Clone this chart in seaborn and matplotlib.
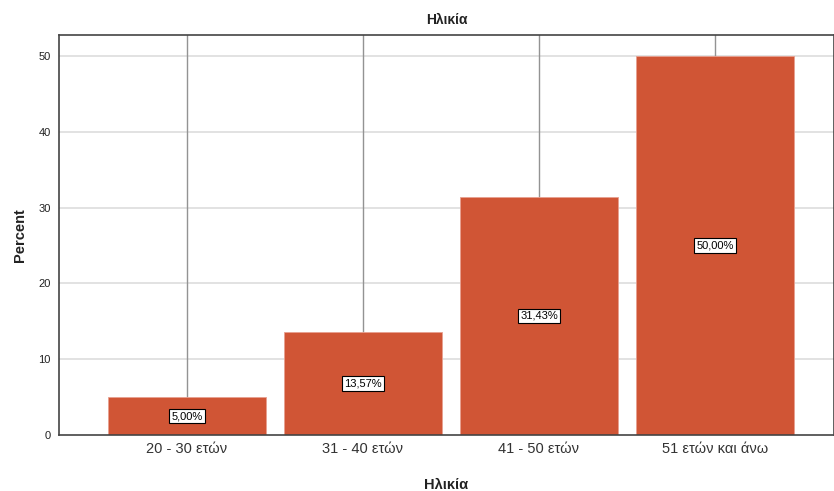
import matplotlib
matplotlib.use("Agg")
import matplotlib.pyplot as plt
import seaborn as sns
import pandas as pd

categories = ["20 - 30 ετών", "31 - 40 ετών", "41 - 50 ετών", "51 ετών και άνω"]
percent = [5.00, 13.57, 31.43, 50.00]
yticks = [0, 10, 20, 30, 40, 50]

df = pd.DataFrame({"Ηλικία": categories, "Percent": percent})

sns.set_theme(style="white")
plt.rcParams["font.family"] = ["Liberation Sans", "DejaVu Sans"]

fig = plt.figure(figsize=(8.34, 4.91), dpi=100)
ax = fig.add_axes([59 / 834, 1 - 435 / 491, 1 - 59 / 834, (435 - 35) / 491])

bar_color = "#D05535"
sns.barplot(data=df, x="Ηλικία", y="Percent", color=bar_color, width=0.9,
            saturation=1, ax=ax, zorder=3, edgecolor="#E8A090", linewidth=0.6)

ax.set_xlim(-0.727, 3.676)
ax.set_ylim(0, 52.8)
ax.set_yticks(yticks)
ax.set_yticklabels([str(t) for t in yticks], fontsize=8, color="#222222")
ax.tick_params(axis="y", length=3, width=0.8, color="#444444", pad=3)
ax.tick_params(axis="x", length=0, pad=5, labelsize=10.5, labelcolor="#333333")

# horizontal reference lines and vertical category lines
for t in yticks[1:]:
    ax.axhline(t, color="#DDDDDD", lw=1.2, zorder=1)
for i in range(len(categories)):
    ax.axvline(i, color="#939393", lw=1.0, zorder=2)

for side in ["left", "top", "bottom", "right"]:
    ax.spines[side].set_visible(True)
    ax.spines[side].set_color("#444444")
    ax.spines[side].set_linewidth(1.2)
    ax.spines[side].set_zorder(5)

# value labels in boxes at mid-height of each bar
for i, v in enumerate(percent):
    ax.text(i, v / 2, f"{v:.2f}%".replace(".", ","), ha="center", va="center",
            fontsize=8, color="black", zorder=6,
            bbox=dict(boxstyle="square,pad=0.2", fc="white", ec="black", lw=0.8))

ax.set_title("Ηλικία", fontsize=10, fontweight="bold", pad=8, color="#222222")
ax.set_ylabel("Percent", fontsize=10.5, fontweight="bold", labelpad=8, color="#222222")
ax.set_xlabel("Ηλικία", fontsize=10.5, fontweight="bold", labelpad=16, color="#222222")

fig.savefig("out.png", dpi=100)
